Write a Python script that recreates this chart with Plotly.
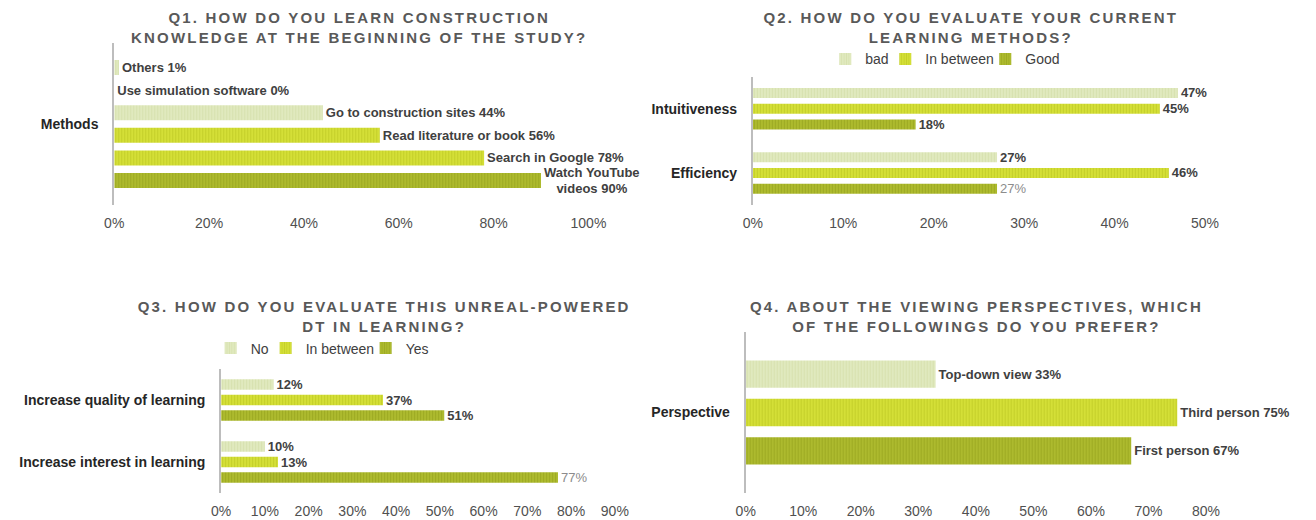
import plotly.graph_objects as go

# ---------------- data ----------------
q1_category = "Methods"
q1_labels = ["Others", "Use simulation software", "Go to construction sites",
             "Read literature or book", "Search in Google", "Watch YouTube<br>videos"]
q1_values = [0.01, 0.00, 0.44, 0.56, 0.78, 0.90]

q2_categories = ["Intuitiveness", "Efficiency"]
q2_series = ["bad", "In between", "Good"]
q2_bad = [0.47, 0.27]
q2_between = [0.45, 0.46]
q2_good = [0.18, 0.27]

q3_categories = ["Increase quality of learning", "Increase interest in learning"]
q3_series = ["No", "In between", "Yes"]
q3_no = [0.12, 0.10]
q3_between = [0.37, 0.13]
q3_yes = [0.51, 0.77]

q4_category = "Perspective"
q4_labels = ["Top-down view", "Third person", "First person"]
q4_values = [0.33, 0.75, 0.67]

titles = [
    "Q1. HOW DO YOU LEARN CONSTRUCTION<br>KNOWLEDGE AT THE BEGINNING OF THE STUDY?",
    "Q2. HOW DO YOU EVALUATE YOUR CURRENT<br>LEARNING METHODS?",
    "Q3. HOW DO YOU EVALUATE THIS UNREAL-POWERED<br>DT IN LEARNING?",
    "Q4. ABOUT THE VIEWING PERSPECTIVES, WHICH<br>OF THE FOLLOWINGS DO YOU PREFER?",
]

# ---------------- style ----------------
W, H = 1316, 520
FONT = "Liberation Sans, Arial, Helvetica, sans-serif"
PAL = {
    "light": ("#e2eac0", "#ccd89e"),
    "mid": ("#d6e038", "#b2be1b"),
    "dark": ("#afbc2e", "#8b9717"),
}
LBL = "#404040"
MUTED = "#8c8c8c"
# per-entry legend widths (px) so the legend entries sit close together
Q2_LEGEND_W = [15, 55, 34]
Q3_LEGEND_W = [10, 55, 24]


def xd(a, b):
    return [a / W, b / W]


def yd(top, bottom):
    return [1 - bottom / H, 1 - top / H]


def offs(n, slot, w):
    return [(k - (n - 1) / 2) * slot - w / 2 for k in range(n)]


def mk(level):
    bg, fg = PAL[level]
    return dict(color=bg, line=dict(width=0),
                pattern=dict(shape="|", size=3, solidity=0.4, bgcolor=bg, fgcolor=fg))


fig = go.Figure()

# Q1 ---------------------------------------------------------------
q1_lv = ["light", "light", "light", "mid", "mid", "dark"]
w1, s1 = 0.0926, 0.1395
o1 = offs(len(q1_values), s1, w1)
for k, (lab, val) in enumerate(zip(q1_labels, q1_values)):
    fig.add_trace(go.Bar(
        y=[q1_category], x=[val], orientation="h", xaxis="x", yaxis="y",
        width=w1, offset=o1[k], marker=mk(q1_lv[k]),
        customdata=[lab], texttemplate="%{customdata} %{x:.0%}",
        textposition="outside", cliponaxis=False, constraintext="none",
        textfont=dict(family=FONT, size=13, color=LBL, weight="bold"),
        showlegend=False, hoverinfo="skip"))

# Q2 ---------------------------------------------------------------
w2, s2 = 0.156, 0.246
o2 = offs(3, s2, w2)
for i, (name, vals, lv) in enumerate(zip(q2_series, [q2_bad, q2_between, q2_good],
                                          ["light", "mid", "dark"])):
    colors = [LBL, LBL]
    weights = ["bold", "bold"]
    if name == "Good":
        colors = [LBL, MUTED]
        weights = ["bold", "normal"]
    fig.add_trace(go.Bar(
        name=name, y=q2_categories, x=vals, orientation="h",
        xaxis="x2", yaxis="y2", width=w2, offset=o2[i], marker=mk(lv),
        texttemplate="%{x:.0%}", textposition="outside", cliponaxis=False,
        constraintext="none",
        textfont=dict(family=FONT, size=13, color=colors, weight=weights),
        legend="legend", legendwidth=Q2_LEGEND_W[i], hoverinfo="skip"))

# Q3 ---------------------------------------------------------------
w3, s3 = 0.17, 0.25
o3 = offs(3, s3, w3)
for i, (name, vals, lv) in enumerate(zip(q3_series, [q3_no, q3_between, q3_yes],
                                          ["light", "mid", "dark"])):
    colors = [LBL, LBL]
    weights = ["bold", "bold"]
    if name == "Yes":
        colors = [LBL, MUTED]
        weights = ["bold", "normal"]
    fig.add_trace(go.Bar(
        name=name, y=q3_categories, x=vals, orientation="h",
        xaxis="x3", yaxis="y3", width=w3, offset=o3[i], marker=mk(lv),
        texttemplate="%{x:.0%}", textposition="outside", cliponaxis=False,
        constraintext="none",
        textfont=dict(family=FONT, size=13, color=colors, weight=weights),
        legend="legend2", legendwidth=Q3_LEGEND_W[i], hoverinfo="skip"))

# Q4 ---------------------------------------------------------------
q4_lv = ["light", "mid", "dark"]
w4, s4 = 0.169, 0.238
o4 = offs(len(q4_values), s4, w4)
for k, (lab, val) in enumerate(zip(q4_labels, q4_values)):
    fig.add_trace(go.Bar(
        y=[q4_category], x=[val], orientation="h", xaxis="x4", yaxis="y4",
        width=w4, offset=o4[k], marker=mk(q4_lv[k]),
        customdata=[lab], texttemplate="%{customdata} %{x:.0%}",
        textposition="outside", cliponaxis=False, constraintext="none",
        textfont=dict(family=FONT, size=13, color=LBL, weight="bold"),
        showlegend=False, hoverinfo="skip"))

# axes -------------------------------------------------------------
tickf = dict(family=FONT, size=14, color="#505050")
catf = dict(family=FONT, size=14, color="#262626", weight="bold")


def xax(dom, anchor, rng, dt):
    return dict(domain=dom, anchor=anchor, range=rng, dtick=dt, tick0=0,
                tickformat=".0%", showgrid=False, zeroline=False, showline=False,
                ticks="", tickfont=tickf, ticklabelstandoff=8, fixedrange=True)


def yax(dom, anchor, ncat):
    return dict(domain=dom, anchor=anchor, type="category",
                range=[ncat - 0.5, -0.5], showgrid=False, zeroline=False,
                showline=True, linecolor="#bdbdbd", linewidth=2, ticks="",
                tickfont=catf, ticklabelstandoff=11, fixedrange=True)


legfont = dict(family=FONT, size=14, color="#404040")
fig.update_layout(
    width=W, height=H, margin=dict(l=0, r=0, t=0, b=0),
    paper_bgcolor="white", plot_bgcolor="white", barmode="overlay",
    xaxis=xax(xd(106.5, 591), "y", [0, 1.0], 0.2),
    yaxis=yax(yd(43, 205), "x", 1),
    xaxis2=xax(xd(759, 1221), "y2", [0, 0.5], 0.1),
    yaxis2=yax(yd(76.7, 205), "x2", 2),
    xaxis3=xax(xd(215.7, 618), "y3", [0, 0.9], 0.1),
    yaxis3=yax(yd(369, 493), "x3", 2),
    xaxis4=xax(xd(751.7, 1222), "y4", [0, 0.8], 0.1),
    yaxis4=yax(yd(331.7, 493.3), "x4", 1),
    legend=dict(orientation="h", x=833 / W, xanchor="left", y=1 - 59.3 / H,
                yanchor="middle", font=legfont, bgcolor="rgba(0,0,0,0)"),
    legend2=dict(orientation="h", x=205 / W, xanchor="left", y=1 - 348.5 / H,
                 yanchor="middle", font=legfont, bgcolor="rgba(0,0,0,0)"),
)

title_pos = [(357, 27.5), (982, 27.5), (383, 316.8), (987, 316.8)]
for t, (cx, cy) in zip(titles, title_pos):
    fig.add_annotation(text=t, x=cx / W, y=1 - cy / H, xref="paper", yref="paper",
                       xanchor="center", yanchor="middle", showarrow=False, align="center",
                       font=dict(family=FONT, size=15, color="#595959", weight="bold"))

post = ("document.querySelectorAll('text.annotation-text').forEach(function(t){"
        "if(/^Q\\d\\./.test(t.textContent)){t.style.letterSpacing='2.2px';}});")

fig.write_html("out.html", post_script=post, config={"displayModeBar": False})
